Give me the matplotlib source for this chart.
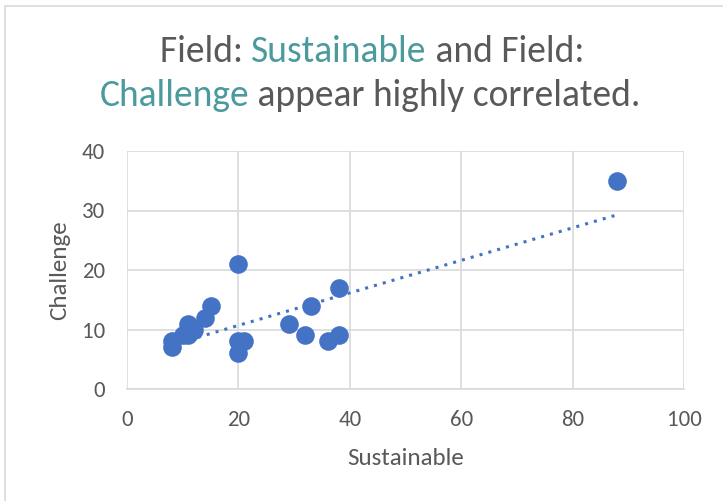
import numpy as np
import matplotlib
matplotlib.use("Agg")
import matplotlib.pyplot as plt
from matplotlib.patches import Rectangle

sustainable = [88, 20, 38, 33, 29, 32, 38, 36, 20, 21, 20, 8, 8, 11, 11, 12, 14, 15, 10]
challenge = [35, 21, 17, 14, 11, 9, 9, 8, 8, 8, 6, 7, 8, 11, 9, 10, 12, 14, 9]
x_ticks = [0, 20, 40, 60, 80, 100]
y_ticks = [0, 10, 20, 30, 40]
title_line1 = [("Field: ", "gray"), ("Sustainable", "teal"), (" and Field:", "gray")]
title_line2 = [("Challenge", "teal"), (" appear highly correlated.", "gray")]

GRAY = "#595959"
TEAL = "#4A9A9E"
BLUE = "#4472C4"
GRID = "#D9D9D9"
FONT = ["Carlito", "DejaVu Sans"]

W, H = 723, 501
fig = plt.figure(figsize=(W / 100, H / 100), dpi=100)
fig.patch.set_facecolor("white")

# chart border (only left/top visible in reference)
fig.add_artist(Rectangle((5 / W, -0.1), 1.2, 1 - 6 / H + 0.1, transform=fig.transFigure,
                         fill=False, edgecolor="#D9D9D9", linewidth=1.2))

ax = fig.add_axes([127 / W, 1 - 389 / H, (684 - 127) / W, (389 - 151) / H])
ax.set_xlim(0, 100)
ax.set_ylim(0, 40)
ax.set_xticks(x_ticks)
ax.set_yticks(y_ticks)
ax.grid(True, color=GRID, linewidth=1.2)
ax.set_axisbelow(True)
for s in ["top", "right", "left"]:
    ax.spines[s].set_visible(False)
ax.spines["bottom"].set_color(GRID)
ax.spines["bottom"].set_linewidth(1.2)
ax.tick_params(axis="x", length=0, labelsize=16.5, labelcolor=GRAY, pad=15)
ax.tick_params(axis="y", length=0, labelsize=16.5, labelcolor=GRAY, pad=16)
for lab in ax.get_xticklabels() + ax.get_yticklabels():
    lab.set_fontfamily(FONT)

ax.scatter(sustainable, challenge, s=180, color=BLUE, zorder=3, linewidths=0)

xs = np.array(sustainable, dtype=float)
ys = np.array(challenge, dtype=float)
m, b = np.polyfit(xs, ys, 1)
xl = np.array([xs.min(), xs.max()])
ax.plot(xl, m * xl + b, linestyle=(0, (1, 2)), color=BLUE, linewidth=2.2, zorder=2)

ax.set_xlabel("Sustainable", fontsize=18, color=GRAY, family=FONT, labelpad=13)
ax.set_ylabel("Challenge", fontsize=18, color=GRAY, family=FONT, labelpad=8)

# multi-colour title
fig.canvas.draw()
renderer = fig.canvas.get_renderer()
cmap = {"gray": GRAY, "teal": TEAL}


def draw_line(pieces, y_px, cx_px):
    texts = []
    widths = []
    for txt, c in pieces:
        t = fig.text(0, 0, txt, fontsize=27, color=cmap[c], family=FONT,
                     va="baseline", ha="left")
        texts.append(t)
        bb = t.get_window_extent(renderer)
        widths.append(bb.width)
    total = sum(widths)
    x = cx_px - total / 2
    for t, w in zip(texts, widths):
        t.set_position((x / W, 1 - y_px / H))
        x += w


draw_line(title_line1, 62, 372)
draw_line(title_line2, 106, 370)

fig.savefig("out.png", dpi=100, facecolor="white")
